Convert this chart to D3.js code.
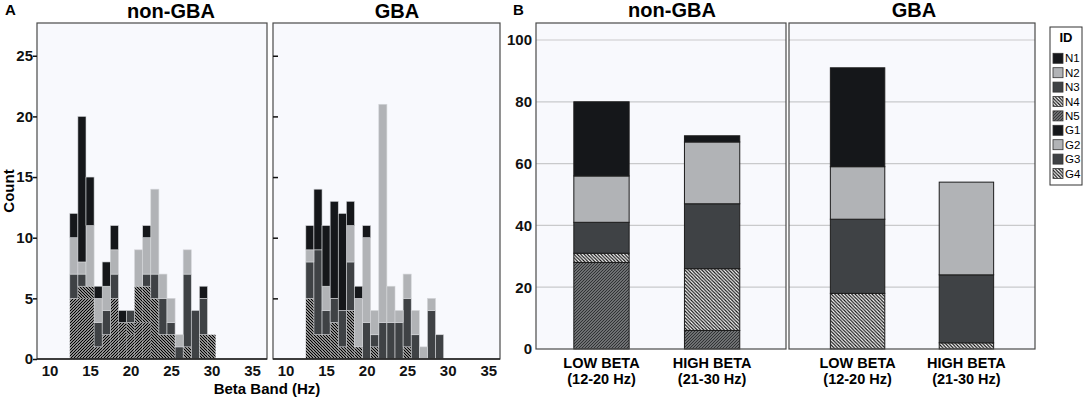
<!DOCTYPE html>
<html>
<head>
<meta charset="utf-8">
<script src="https://cdn.jsdelivr.net/npm/d3@7"></script>
<style>
  body { margin: 0; background: #fff; }
  text { font-family: "Liberation Sans", Arial, sans-serif; }
</style>
</head>
<body>
<svg id="chart"></svg>
<script>
let w = 1084;
let h = 399;

// histogram bins (Hz), one bar per integer frequency
const bins = [13, 14, 15, 16, 17, 18, 19, 20, 21, 22, 23, 24, 25, 26, 27, 28, 29, 30];

// non-GBA counts per subject, per bin
const N1 = [2, 12, 4, 1, 2, 2, 1, 0, 0, 1, 0, 0, 0, 0, 0, 0, 1, 0];
const N2 = [3, 1, 5, 2, 2, 2, 0, 0, 3, 3, 7, 2, 2, 1, 2, 0, 0, 0];
const N3 = [2, 1, 0, 2, 2, 2, 0, 1, 0, 1, 2, 3, 1, 1, 6, 4, 3, 0];
const N4 = [0, 1, 1, 0, 0, 0, 0, 1, 3, 3, 5, 2, 2, 0, 1, 0, 2, 2];
const N5 = [5, 5, 5, 1, 2, 5, 3, 2, 3, 3, 0, 0, 0, 0, 0, 0, 0, 0];

// GBA counts per subject, per bin
const G1 = [2, 5, 5, 8, 8, 2, 1, 1, 0, 0, 0, 0, 0, 0, 0, 0, 0, 0];
const G2 = [1, 0, 2, 0, 0, 3, 4, 7, 2, 18, 3, 1, 2, 2, 1, 1, 0, 0];
const G3 = [3, 7, 2, 2, 3, 4, 0, 3, 1, 3, 3, 3, 4, 2, 0, 4, 2, 0];
const G4 = [5, 2, 2, 3, 1, 4, 1, 0, 1, 0, 0, 0, 1, 0, 0, 0, 0, 0];

const nonKeys = ['N5', 'N4', 'N3', 'N2', 'N1'];
const gbaKeys = ['G4', 'G3', 'G2', 'G1'];
const legendIds = ['N1', 'N2', 'N3', 'N4', 'N5', 'G1', 'G2', 'G3', 'G4'];
const hatchedIds = ['N4', 'N5', 'G4'];

const bands = ['LOW BETA', 'HIGH BETA'];
const bandRanges = ['(12-20 Hz)', '(21-30 Hz)'];
const histTicks = [10, 15, 20, 25, 30, 35];
const countTicks = [0, 5, 10, 15, 20, 25];
const pctTicks = [0, 20, 40, 60, 80, 100];

const series = { N1, N2, N3, N4, N5, G1, G2, G3, G4 };

const black = '#15171a';
const light = '#b1b3b6';
const dark = '#3f4245';
const panelBg = '#f8f9fd';
const frameCol = '#4a4a4a';

let chart = d3.select('#chart').attr('width', w).attr('height', h);

// hatch patterns
const defs = chart.append('defs');
function hatch(id, bg, fg, dir, size, lw) {
    const p = defs.append('pattern')
        .attr('id', id)
        .attr('patternUnits', 'userSpaceOnUse')
        .attr('width', size).attr('height', size);
    p.append('rect').attr('width', size).attr('height', size).attr('fill', bg);
    const s = size;
    const d = dir === 'back'
        ? `M${-s / 2},${s / 2} L${s / 2},${s * 1.5} M0,0 L${s},${s} M${s / 2},${-s / 2} L${s * 1.5},${s / 2}`
        : `M${-s / 2},${s / 2} L${s / 2},${-s / 2} M0,${s} L${s},0 M${s / 2},${s * 1.5} L${s * 1.5},${s / 2}`;
    p.append('path').attr('d', d).attr('stroke', fg).attr('stroke-width', lw);
}
hatch('hN4', '#ffffff', '#000', 'back', 3, 1.3);
hatch('hN5', '#ffffff', '#000', 'fwd', 3, 1.3);
hatch('bN4', '#ffffff', '#111', 'back', 3.4, 1.2);
hatch('bN5', '#8a8c8e', '#2b2d2f', 'fwd', 3, 1.1);

const histFill = { N1: black, N2: light, N3: dark, N4: 'url(#hN4)', N5: 'url(#hN5)',
    G1: black, G2: light, G3: dark, G4: 'url(#hN4)' };
const barFill = { N1: black, N2: light, N3: dark, N4: 'url(#bN4)', N5: 'url(#bN5)',
    G1: black, G2: light, G3: dark, G4: 'url(#bN4)' };

// ---------- panel A: histograms ----------
const yA = d3.scaleLinear().domain([0, 27.7]).range([359, 23]);
const histPanels = [
    { title: 'non-GBA', keys: nonKeys, x: d3.scaleLinear().domain([8.45, 36.85]).range([37, 267]), tx: 171 },
    { title: 'GBA', keys: gbaKeys, x: d3.scaleLinear().domain([8.45, 36.45]).range([273, 500]), tx: 397 }
];

histPanels.forEach((p, pi) => {
    const [x0, x1] = p.x.range();
    const g = chart.append('g');
    g.append('rect')
        .attr('x', x0).attr('y', 23).attr('width', x1 - x0).attr('height', 336)
        .attr('fill', panelBg);

    const rows = bins.map((b, i) => {
        const r = { bin: b };
        p.keys.forEach(k => r[k] = series[k][i]);
        return r;
    });
    const stacked = d3.stack().keys(p.keys)(rows);

    g.selectAll('g.layer')
        .data(stacked)
        .enter()
        .append('g')
        .attr('class', 'layer')
        .attr('fill', d => histFill[d.key])
        .attr('stroke', d => hatchedIds.includes(d.key) ? 'none' : '#d4d6d9')
        .attr('stroke-width', 0.6)
        .selectAll('rect')
        .data(d => d.filter(s => s[1] > s[0]))
        .enter()
        .append('rect')
        .attr('x', d => p.x(d.data.bin - 0.5))
        .attr('width', d => p.x(d.data.bin + 0.5) - p.x(d.data.bin - 0.5))
        .attr('y', d => yA(d[1]))
        .attr('height', d => yA(d[0]) - yA(d[1]));

    g.append('rect')
        .attr('x', x0).attr('y', 23).attr('width', x1 - x0).attr('height', 336)
        .attr('fill', 'none').attr('stroke', frameCol).attr('stroke-width', 1.2);
    g.append('line')
        .attr('x1', x0).attr('x2', x1).attr('y1', 359).attr('y2', 359)
        .attr('stroke', '#222').attr('stroke-width', 1.6);

    const xAxis = g.append('g')
        .attr('transform', 'translate(0,359)')
        .call(d3.axisBottom(p.x).tickValues(histTicks).tickSize(0).tickPadding(6));
    xAxis.select('.domain').remove();
    xAxis.selectAll('text').style('font-size', '15px').style('font-weight', 'bold').attr('fill', '#111');

    if (pi === 0) {
        const yAxis = g.append('g')
            .attr('transform', `translate(${x0},0)`)
            .call(d3.axisLeft(yA).tickValues(countTicks).tickSize(4).tickPadding(0));
        yAxis.select('.domain').remove();
        yAxis.selectAll('line').attr('stroke', '#111').attr('stroke-width', 1.5);
        yAxis.selectAll('text').style('font-size', '15px').style('font-weight', 'bold').attr('fill', '#111');
    } else {
        const yAxis = g.append('g')
            .attr('transform', `translate(${x0},0)`)
            .call(d3.axisRight(yA).tickValues(countTicks.slice(1)).tickSize(5).tickFormat(''));
        yAxis.select('.domain').remove();
        yAxis.selectAll('line').attr('stroke', '#111').attr('stroke-width', 1.5);
    }

    chart.append('text')
        .attr('x', p.tx).attr('y', 17.5)
        .attr('text-anchor', 'middle')
        .style('font-size', '20px').style('font-weight', 'bold')
        .text(p.title);
});

chart.append('text')
    .attr('transform', 'translate(14,191) rotate(-90)')
    .attr('text-anchor', 'middle')
    .style('font-size', '15px').style('font-weight', 'bold')
    .text('Count');

chart.append('text')
    .attr('x', 267).attr('y', 393.5)
    .attr('text-anchor', 'middle')
    .style('font-size', '15px').style('font-weight', 'bold')
    .text('Beta Band (Hz)');

chart.append('text')
    .attr('x', 5).attr('y', 15)
    .style('font-size', '15px').style('font-weight', 'bold')
    .text('A');

// ---------- panel B: stacked totals per band ----------
const lowIdx = bins.map((b, i) => b <= 20 ? i : -1).filter(i => i >= 0);
const highIdx = bins.map((b, i) => b >= 21 ? i : -1).filter(i => i >= 0);

function bandRows(keys) {
    return bands.map((band, bi) => {
        const idx = bi === 0 ? lowIdx : highIdx;
        const r = { band };
        keys.forEach(k => r[k] = d3.sum(idx, i => series[k][i]));
        return r;
    });
}

const yB = d3.scaleLinear().domain([0, 105.5]).range([349, 23]);
const barPanels = [
    { title: 'non-GBA', keys: nonKeys, range: [536, 786], align: 0.45, tx: 672 },
    { title: 'GBA', keys: gbaKeys, range: [789, 1035], align: 0.5, tx: 914 }
];

barPanels.forEach((p, pi) => {
    const [x0, x1] = p.range;
    const xb = d3.scaleBand().domain(bands).range(p.range)
        .paddingInner(0.5).paddingOuter(0.38).align(p.align);
    const g = chart.append('g');
    g.append('rect')
        .attr('x', x0).attr('y', 23).attr('width', x1 - x0).attr('height', 326)
        .attr('fill', panelBg);

    g.selectAll('line.grid')
        .data(pctTicks.slice(1))
        .enter()
        .append('line')
        .attr('class', 'grid')
        .attr('x1', x0).attr('x2', x1)
        .attr('y1', d => yB(d)).attr('y2', d => yB(d))
        .attr('stroke', '#c9cacc').attr('stroke-width', 1.2);

    const stacked = d3.stack().keys(p.keys)(bandRows(p.keys));
    g.selectAll('g.layer')
        .data(stacked)
        .enter()
        .append('g')
        .attr('class', 'layer')
        .attr('fill', d => barFill[d.key])
        .selectAll('rect')
        .data(d => d.filter(s => s[1] > s[0]))
        .enter()
        .append('rect')
        .attr('x', d => xb(d.data.band))
        .attr('width', xb.bandwidth())
        .attr('y', d => yB(d[1]))
        .attr('height', d => yB(d[0]) - yB(d[1]))
        .attr('stroke', '#1c1c1c')
        .attr('stroke-width', 1);

    g.append('rect')
        .attr('x', x0).attr('y', 23).attr('width', x1 - x0).attr('height', 326)
        .attr('fill', 'none').attr('stroke', frameCol).attr('stroke-width', 1.2);

    if (pi === 0) {
        const yAxis = g.append('g')
            .attr('transform', `translate(${x0},0)`)
            .call(d3.axisLeft(yB).tickValues(pctTicks).tickSize(0).tickPadding(4));
        yAxis.select('.domain').remove();
        yAxis.selectAll('text').style('font-size', '15px').style('font-weight', 'bold').attr('fill', '#111');
    }

    g.selectAll('text.cat')
        .data(bands)
        .enter()
        .append('text')
        .attr('class', 'cat')
        .attr('x', d => xb(d) + xb.bandwidth() / 2)
        .attr('y', 368)
        .attr('text-anchor', 'middle')
        .style('font-size', '14.5px').style('font-weight', 'bold')
        .text(d => d);

    g.selectAll('text.rng')
        .data(bandRanges)
        .enter()
        .append('text')
        .attr('class', 'rng')
        .attr('x', (d, i) => xb(bands[i]) + xb.bandwidth() / 2)
        .attr('y', 384)
        .attr('text-anchor', 'middle')
        .style('font-size', '14.5px').style('font-weight', 'bold')
        .text(d => d);

    chart.append('text')
        .attr('x', p.tx).attr('y', 17)
        .attr('text-anchor', 'middle')
        .style('font-size', '20px').style('font-weight', 'bold')
        .text(p.title);
});

chart.append('text')
    .attr('x', 513).attr('y', 15)
    .style('font-size', '15px').style('font-weight', 'bold')
    .text('B');

// legend
const legend = chart.append('g');
legend.append('rect')
    .attr('x', 1050).attr('y', 27).attr('width', 32).attr('height', 158)
    .attr('fill', '#fff').attr('stroke', '#333').attr('stroke-width', 1);
legend.append('text')
    .attr('x', 1066).attr('y', 42)
    .attr('text-anchor', 'middle')
    .style('font-size', '13px').style('font-weight', 'bold')
    .text('ID');
const items = legend.selectAll('g.item')
    .data(legendIds)
    .enter()
    .append('g')
    .attr('class', 'item')
    .attr('transform', (d, i) => `translate(1053,${58.3 + i * 14.4})`);
items.append('rect')
    .attr('x', 0).attr('y', -5).attr('width', 10).attr('height', 10)
    .attr('fill', d => barFill[d]).attr('stroke', '#333').attr('stroke-width', 0.8);
items.append('text')
    .attr('x', 12).attr('y', 4)
    .style('font-size', '11.5px')
    .text(d => d);
</script>
</body>
</html>
